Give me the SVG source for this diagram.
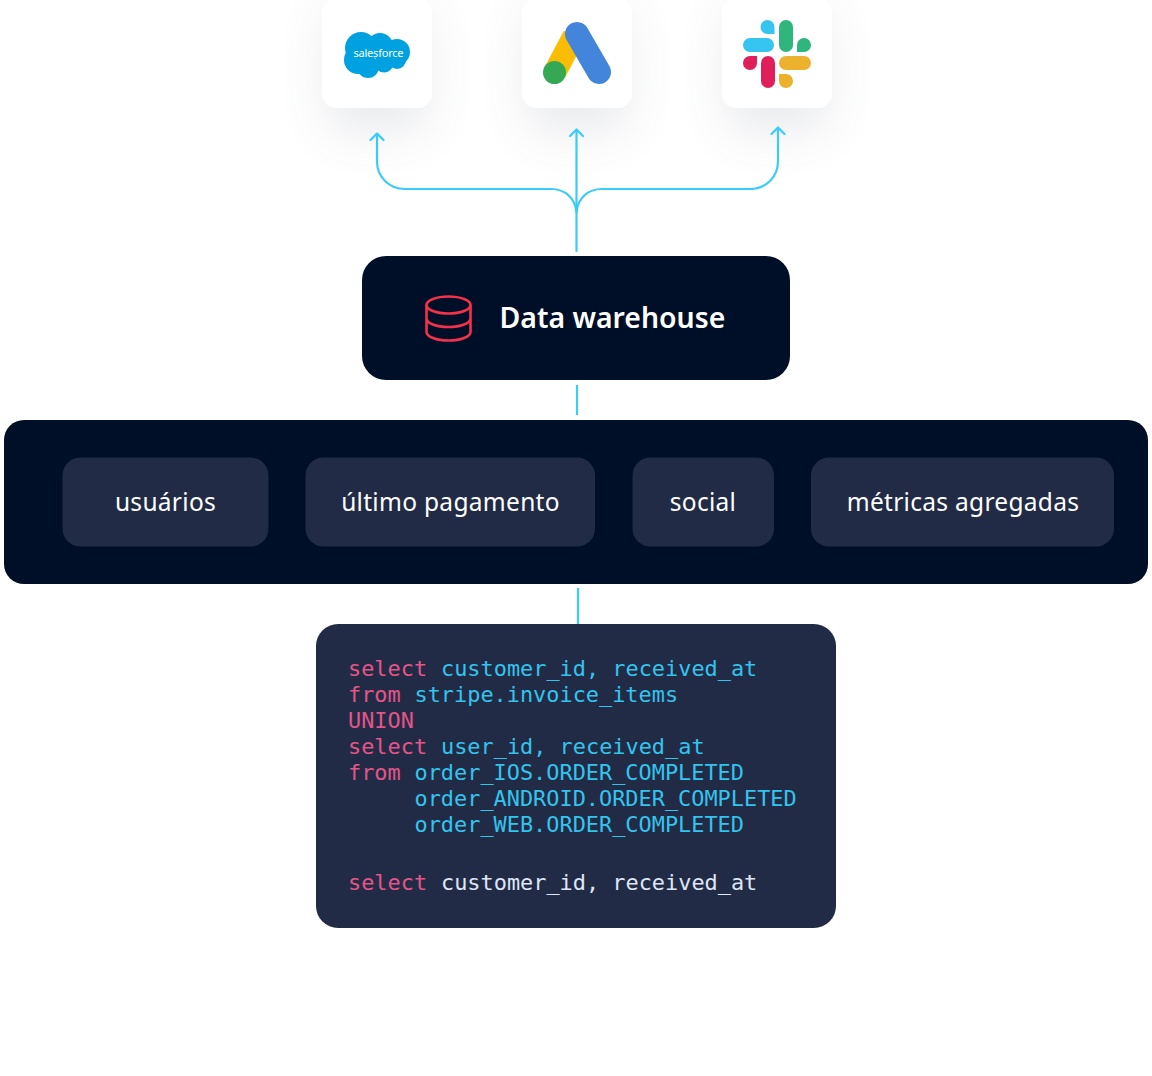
<svg xmlns="http://www.w3.org/2000/svg" width="1152" height="1076" viewBox="0 0 1152 1076">
<defs>
<style>
.sans{font-family:"Noto Sans","Open Sans",sans-serif}
.chip{fill:#222b45}
.chipt{font-size:24.500px;fill:#fff;text-anchor:middle;letter-spacing:.3px}
.code{font-family:"DejaVu Sans Mono",monospace;font-size:21.900px;white-space:pre}
.k{fill:#e4558a}.c{fill:#33c4ee}.w{fill:#dfe6f7}
.conn{fill:none;stroke:#38cbfb;stroke-width:2.200;stroke-linecap:round;stroke-linejoin:round}
.card{fill:#fff}
.sh{fill:#5a6478;opacity:.13;filter:url(#blur)}
</style>
<filter id="blur" x="-80%" y="-80%" width="260%" height="260%"><feGaussianBlur stdDeviation="24"/></filter>
</defs>
<rect width="1152" height="1076" fill="#fff"/>
<g id="salesforce">
<rect class="sh" x="326" y="8" width="102" height="124" rx="16"/>
<rect class="card" x="322" y="-2" width="110" height="110" rx="14"/>
<g fill="#00a1e0"><circle cx="361" cy="48" r="16"/><circle cx="380" cy="46" r="13"/><circle cx="397" cy="52" r="13"/><circle cx="358" cy="60" r="14"/><circle cx="368" cy="67" r="11"/><circle cx="384" cy="63" r="9.500"/><circle cx="397" cy="60" r="9"/></g>
<text x="378.500" y="57" class="sans" font-size="11" fill="#fff" text-anchor="middle" textLength="50">salesforce</text>
</g>
<g id="google-ads">
<rect class="sh" x="526" y="8" width="102" height="124" rx="16"/>
<rect class="card" x="522" y="-2" width="110" height="110" rx="14"/>
<line x1="574" y1="36" x2="555" y2="72" stroke="#fbbc04" stroke-width="23"/>
<line x1="577" y1="34" x2="599" y2="72" stroke="#4285db" stroke-width="24" stroke-linecap="round"/>
<circle cx="554.500" cy="72.500" r="11.500" fill="#34a853"/>
</g>
<g id="slack">
<rect class="sh" x="726" y="8" width="102" height="124" rx="16"/>
<rect class="card" x="722" y="-2" width="110" height="110" rx="14"/>
<g fill="#36c5f0"><rect x="743" y="38" width="31" height="14" rx="7"/><path d="M767.500 20a7 7 0 0 1 7 7v7h-7a7 7 0 0 1 0-14z"/></g>
<g fill="#2eb67d"><rect x="779" y="20" width="14" height="32" rx="7"/><path d="M811 45a7 7 0 0 1-7 7h-7v-7a7 7 0 0 1 14 0z"/></g>
<g fill="#ecb22e"><rect x="779" y="56" width="32" height="14" rx="7"/><path d="M786 88a7 7 0 0 1-7-7v-7h7a7 7 0 0 1 0 14z"/></g>
<g fill="#e01e5a"><rect x="761" y="56" width="14" height="32" rx="7"/><path d="M743 63a7 7 0 0 1 7-7h7v7a7 7 0 0 1-14 0z"/></g>
</g>
<g id="connectors">
<path class="conn" d="M576.500 251V130M570 136l6.500-6.500 6.500 6.500"/>
<path class="conn" d="M576.500 212C575 198 565 189 551 189H405C389 189 377 177 377 161V134M370.500 140l6.500-6.500 6.500 6.500"/>
<path class="conn" d="M576.500 212C578 198 588 189 602 189H750C766 189 778 177 778 161V128M771.500 134l6.500-6.500 6.500 6.500"/>
<line class="conn" x1="577" y1="385" x2="577" y2="415" style="stroke-linecap:butt"/>
<line class="conn" x1="578" y1="588" x2="578" y2="624" style="stroke-linecap:butt"/>
</g>
<g id="data-warehouse">
<rect x="362" y="256" width="428" height="124" rx="24" fill="#000f28"/>
<g fill="none" stroke="#f5304a" stroke-width="2.600"><ellipse cx="448.500" cy="305" rx="22" ry="8.500"/><path d="M426.500 305v27c0 4.700 9.800 8.500 22 8.500s22-3.800 22-8.500v-27M426.500 318.500c0 4.700 9.800 8.500 22 8.500s22-3.800 22-8.500"/></g>
<text x="499.500" y="328" class="sans" font-size="28.400" font-weight="600" fill="#fff">Data warehouse</text>
</g>
<g id="tables">
<rect x="4" y="420" width="1144" height="164" rx="20" fill="#000f28"/>
<g id="usuarios"><rect class="chip" x="62.500" y="457.500" width="206" height="89" rx="18"/><text class="sans chipt" x="165.500" y="511">usuários</text></g>
<g id="ultimo-pagamento"><rect class="chip" x="305.500" y="457.500" width="289.500" height="89" rx="18"/><text class="sans chipt" x="450.500" y="511">último pagamento</text></g>
<g id="social"><rect class="chip" x="632.500" y="457.500" width="141.500" height="89" rx="18"/><text class="sans chipt" x="703" y="511">social</text></g>
<g id="metricas"><rect class="chip" x="811" y="457.500" width="303" height="89" rx="18"/><text class="sans chipt" x="963" y="511">métricas agregadas</text></g>
</g>
<g id="sql">
<rect x="316" y="624" width="520" height="304" rx="22" fill="#222b45"/>
<text class="code" x="348" y="676"><tspan class="k">select</tspan><tspan class="c" x="441">customer_id, received_at</tspan></text>
<text class="code" x="348" y="702"><tspan class="k">from</tspan><tspan class="c" x="414.500">stripe.invoice_items</tspan></text>
<text class="code k" x="348" y="728">UNION</text>
<text class="code" x="348" y="754"><tspan class="k">select</tspan><tspan class="c" x="441">user_id, received_at</tspan></text>
<text class="code" x="348" y="780"><tspan class="k">from</tspan><tspan class="c" x="414.500">order_IOS.ORDER_COMPLETED</tspan></text>
<text class="code c" x="414.500" y="806">order_ANDROID.ORDER_COMPLETED</text>
<text class="code c" x="414.500" y="832">order_WEB.ORDER_COMPLETED</text>
<text class="code" x="348" y="890"><tspan class="k">select</tspan><tspan class="w" x="441">customer_id, received_at</tspan></text>
</g>
</svg>
